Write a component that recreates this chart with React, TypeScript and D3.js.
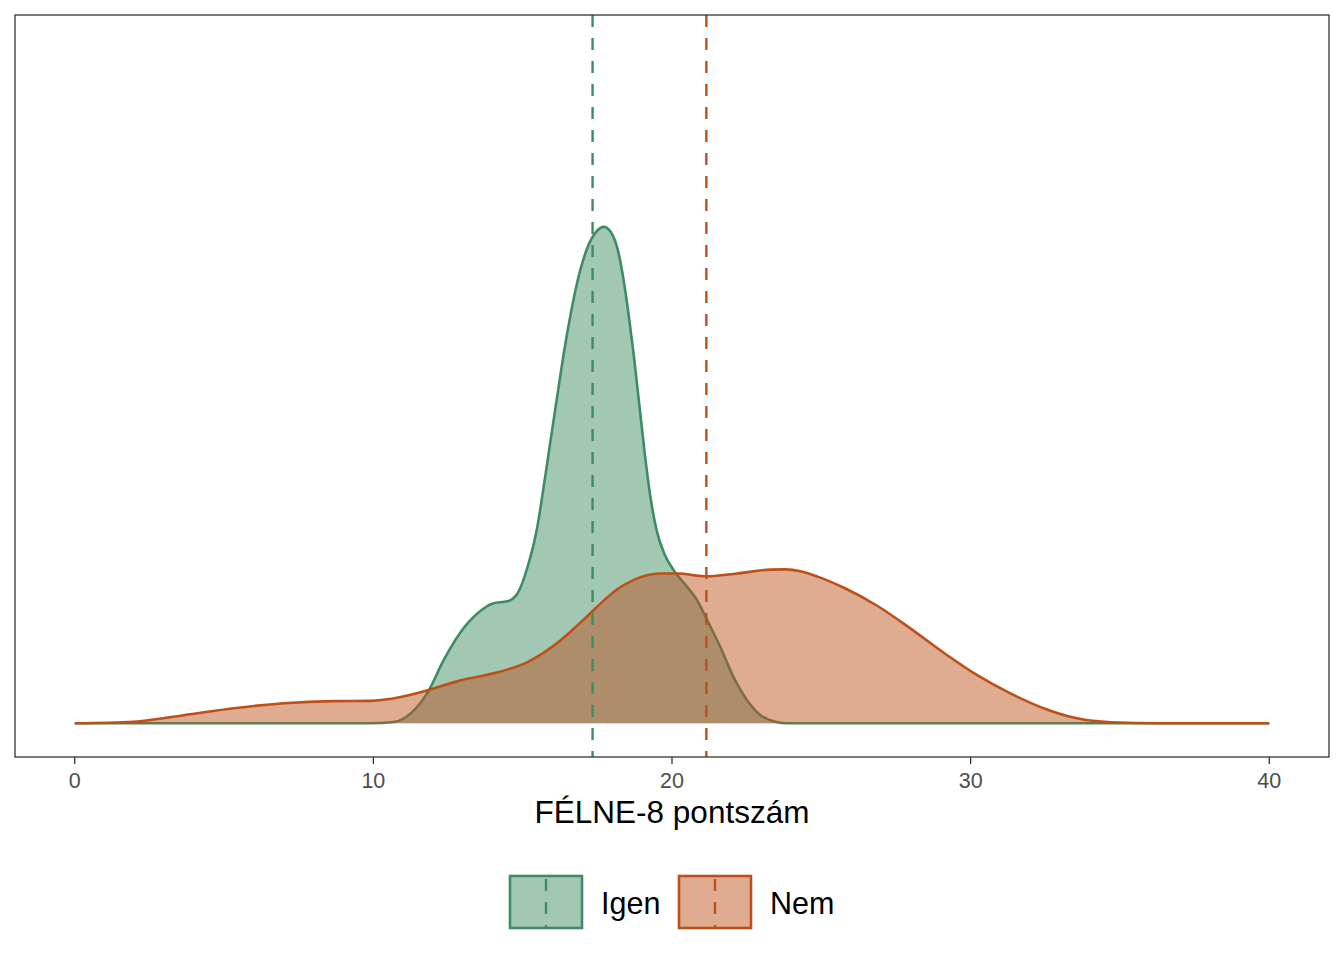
import * as d3 from 'd3';

// FÉLNE-8 score densities
const igenScore = [0, 5, 9.9, 10.68, 11.25, 11.82, 12.35, 12.92, 13.49, 14.02, 14.49, 14.83, 15.16, 15.49, 15.71, 15.93, 16.16, 16.38, 16.6, 16.83, 17.16, 17.45, 17.72, 17.95, 18.17, 18.39, 18.55, 18.72, 18.9, 19.08, 19.28, 19.5, 19.75, 20.06, 20.51, 20.84, 21.18, 21.62, 22.06, 22.52, 23.06, 23.86, 26, 30, 35, 40];
const igenDensity = [0, 0, 0, 0.0005, 0.0038, 0.0119, 0.0242, 0.035, 0.0423, 0.0462, 0.0469, 0.05, 0.06, 0.0755, 0.0915, 0.1085, 0.126, 0.1425, 0.1569, 0.1697, 0.1827, 0.1889, 0.1909, 0.1889, 0.1827, 0.1697, 0.1569, 0.1415, 0.123, 0.1045, 0.0868, 0.0735, 0.065, 0.0588, 0.0524, 0.0473, 0.0396, 0.0293, 0.0178, 0.0088, 0.0024, 0, 0, 0, 0, 0];

const nemScore = [0, 1.97, 3.65, 5.32, 7.0, 8.67, 9.91, 10.91, 11.82, 12.92, 14.02, 15.16, 16.27, 16.94, 18.28, 18.95, 19.62, 20.17, 21.18, 22.18, 23.3, 23.8, 24.3, 24.9, 25.74, 26.87, 27.98, 29.09, 30.22, 31.33, 32.44, 33.56, 34.68, 36.35, 38, 40];
const nemDensity = [0, 0.0006, 0.0031, 0.0058, 0.0077, 0.0085, 0.0086, 0.0101, 0.0127, 0.0165, 0.0192, 0.0235, 0.0319, 0.0388, 0.0524, 0.0562, 0.0576, 0.0576, 0.0565, 0.0576, 0.0591, 0.0592, 0.0585, 0.0563, 0.0522, 0.0452, 0.0365, 0.0272, 0.0185, 0.0115, 0.0058, 0.0019, 0.0004, 0, 0, 0];

const groups = ['Igen', 'Nem'];
const groupMeans = [17.34, 21.15];
const groupColors = ['#3D8C63', '#BD5019'];
const xTicks = [0, 10, 20, 30, 40];

const width = 1344;
const height = 960;
const panel = { left: 15, right: 1329, top: 15, bottom: 757 };
const font = '"Liberation Sans", Arial, Helvetica, sans-serif';

type Pt = { x: number; y: number };

const App = () => {
  const series: Pt[][] = [
    igenScore.map((x, i) => ({ x, y: igenDensity[i] })),
    nemScore.map((x, i) => ({ x, y: nemDensity[i] })),
  ];

  const yMax = 0.2594;
  const x = d3.scaleLinear().domain([-2, 42]).range([panel.left, panel.right]);
  const y = d3
    .scaleLinear()
    .domain([-0.05 * yMax, 1.05 * yMax])
    .range([panel.bottom, panel.top]);

  const area = d3
    .area<Pt>()
    .x(d => x(d.x))
    .y0(y(0))
    .y1(d => y(d.y))
    .curve(d3.curveMonotoneX);

  const line = d3
    .line<Pt>()
    .x(d => x(d.x))
    .y(d => y(d.y))
    .curve(d3.curveMonotoneX);

  const legendX = [509, 678];
  const legendY = 875;
  const keyW = 74;
  const keyH = 54;

  return (
    <svg
      width={width}
      height={height}
      style={{ position: 'absolute', left: 0, top: 0, background: '#fff' }}
      fontFamily={font}
    >
      <defs>
        <clipPath id="panel-clip">
          <rect x={panel.left} y={panel.top} width={panel.right - panel.left} height={panel.bottom - panel.top} />
        </clipPath>
      </defs>

      <g clipPath="url(#panel-clip)">
        {series.map((s, i) => (
          <g key={groups[i]}>
            <path d={area(s) ?? ''} fill={groupColors[i]} fillOpacity={0.48} />
            <path d={line(s) ?? ''} fill="none" stroke={groupColors[i]} strokeWidth={2.6} strokeLinejoin="round" />
          </g>
        ))}
        {groupMeans.map((m, i) => (
          <line
            key={groups[i]}
            x1={x(m)}
            x2={x(m)}
            y1={panel.top}
            y2={panel.bottom}
            stroke={groupColors[i]}
            strokeWidth={2.4}
            strokeDasharray="12 11"
          />
        ))}
      </g>

      {/* panel border */}
      <rect
        x={panel.left}
        y={panel.top}
        width={panel.right - panel.left}
        height={panel.bottom - panel.top}
        fill="none"
        stroke="#333333"
        strokeWidth={1.3}
      />

      {/* x axis */}
      {xTicks.map(t => (
        <g key={t} transform={`translate(${x(t)},0)`}>
          <line y1={panel.bottom} y2={panel.bottom + 7} stroke="#333333" strokeWidth={1.3} />
          <text y={788} textAnchor="middle" fontSize={21.5} fill="#4D4D4D">
            {t}
          </text>
        </g>
      ))}
      <text x={(panel.left + panel.right) / 2} y={823} textAnchor="middle" fontSize={31.5} fill="#000">
        FÉLNE-8 pontszám
      </text>

      {/* legend */}
      {groups.map((g, i) => (
        <g key={g} transform={`translate(${legendX[i]},${legendY})`}>
          <rect
            x={1}
            y={1}
            width={keyW - 2}
            height={keyH - 2}
            fill={groupColors[i]}
            fillOpacity={0.48}
            stroke={groupColors[i]}
            strokeWidth={2.6}
          />
          <line
            x1={keyW / 2}
            x2={keyW / 2}
            y1={1}
            y2={keyH - 1}
            stroke={groupColors[i]}
            strokeWidth={2.4}
            strokeDasharray="12 11"
            strokeDashoffset={-3}
          />
          <text x={keyW + 18} y={38.5} fontSize={30.5} fill="#000">
            {g}
          </text>
        </g>
      ))}
    </svg>
  );
};

export default App;
